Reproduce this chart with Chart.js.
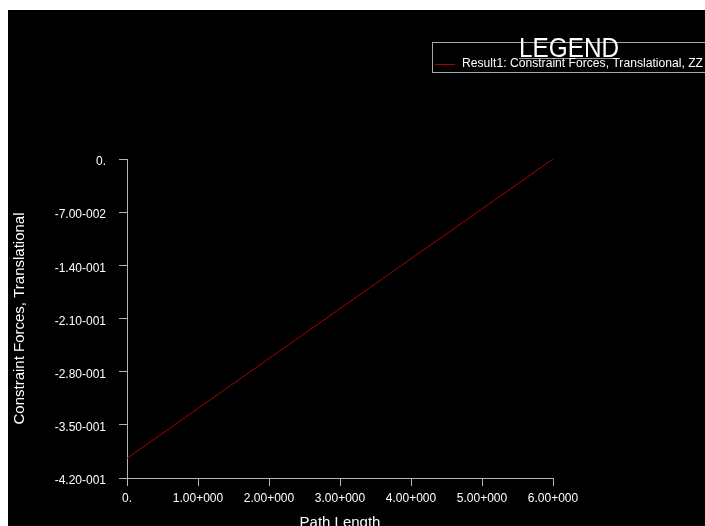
<!DOCTYPE html>
<html>
<head>
<meta charset="utf-8">
<title>Constraint Forces, Translational</title>
<script src="https://cdn.jsdelivr.net/npm/chart.js@4/dist/chart.umd.min.js"></script>
<style>
  html, body { margin: 0; padding: 0; overflow: hidden; background: #ffffff; }
  canvas { display: block; }
</style>
</head>
<body>
<canvas id="plot" width="705" height="540"></canvas>
<script>
// Path length (x) and translational constraint force ZZ (y)
const pathLength = [0, 6];
const constraintForceZZ = [-0.394, 0];
const seriesLabel = 'Result1: Constraint Forces, Translational, ZZ';

// Axis tick values and their labels
const xTickValues = [0, 1, 2, 3, 4, 5, 6];
const xTickLabels = ['0.', '1.00+000', '2.00+000', '3.00+000', '4.00+000', '5.00+000', '6.00+000'];
const yTickValues = [0, -0.07, -0.14, -0.21, -0.28, -0.35, -0.42];
const yTickLabels = ['0.', '-7.00-002', '-1.40-001', '-2.10-001', '-2.80-001', '-3.50-001', '-4.20-001'];

const FONT = "'Liberation Sans', Arial, Helvetica, sans-serif";
const AXIS_GREY = '#b4b4b4';

function labelFor(values, labels, v) {
  for (let i = 0; i < values.length; i++) {
    if (Math.abs(values[i] - v) < 1e-9) return labels[i];
  }
  return '';
}

// White margin with a black plotting panel
const panelBackground = {
  id: 'panelBackground',
  beforeDraw(chart) {
    const ctx = chart.ctx;
    ctx.save();
    ctx.fillStyle = '#ffffff';
    ctx.fillRect(0, 0, chart.width, chart.height);
    ctx.fillStyle = '#000000';
    ctx.fillRect(8, 10, chart.width - 8, chart.height - 10);
    ctx.restore();
  }
};

// Text drawn squeezed/stretched horizontally to a given width
function fillTextWidth(ctx, text, x, y, width) {
  const w = ctx.measureText(text).width;
  ctx.save();
  ctx.translate(x, y);
  ctx.scale(width / w, 1);
  ctx.fillText(text, 0, 0);
  ctx.restore();
}

// Boxed legend with an underlined "LEGEND" heading
const boxedLegend = {
  id: 'boxedLegend',
  afterDraw(chart) {
    const ctx = chart.ctx;
    const ds = chart.data.datasets[0];
    ctx.save();
    ctx.strokeStyle = '#a8a8a8';
    ctx.lineWidth = 1;
    ctx.strokeRect(432.5, 42.5, 280, 30);

    // heading
    ctx.font = '27px ' + FONT;
    ctx.fillStyle = '#ffffff';
    ctx.textBaseline = 'alphabetic';
    ctx.textAlign = 'left';
    fillTextWidth(ctx, 'LEGEND', 519, 57, 100);
    ctx.strokeStyle = '#9a9a9a';
    ctx.beginPath();
    ctx.moveTo(519, 58.5);
    ctx.lineTo(617, 58.5);
    ctx.stroke();

    // series entry
    ctx.strokeStyle = ds.borderColor;
    ctx.beginPath();
    ctx.moveTo(435, 64.5);
    ctx.lineTo(455, 64.5);
    ctx.stroke();
    ctx.font = '12.5px ' + FONT;
    ctx.textBaseline = 'middle';
    ctx.fillStyle = '#ffffff';
    fillTextWidth(ctx, ds.label, 462, 64, 241);
    ctx.restore();
  }
};

new Chart(document.getElementById('plot'), {
  type: 'line',
  data: {
    datasets: [{
      label: seriesLabel,
      data: pathLength.map((x, i) => ({ x: x, y: constraintForceZZ[i] })),
      borderColor: '#a80000',
      borderWidth: 1,
      pointRadius: 0,
      fill: false,
      tension: 0
    }]
  },
  options: {
    responsive: false,
    animation: false,
    devicePixelRatio: 1,
    layout: { padding: { left: 0, top: 159, right: 152, bottom: 0 } },
    plugins: {
      legend: { display: false },
      tooltip: { enabled: false }
    },
    scales: {
      x: {
        type: 'linear',
        position: 'bottom',
        min: 0,
        max: 6,
        afterBuildTicks: s => { s.ticks = xTickValues.map(v => ({ value: v })); },
        afterFit: s => { s.height = 62; },
        grid: { drawOnChartArea: false, drawTicks: true, tickLength: 8, color: AXIS_GREY, lineWidth: 1 },
        border: { display: true, color: AXIS_GREY, width: 1 },
        ticks: {
          color: '#ffffff',
          font: { family: FONT, size: 12 },
          padding: 5,
          maxRotation: 0,
          autoSkip: false,
          callback: v => labelFor(xTickValues, xTickLabels, v)
        },
        title: {
          display: true,
          text: 'Path Length',
          color: '#ffffff',
          font: { family: FONT, size: 15 },
          padding: { top: 0, bottom: 8 }
        }
      },
      y: {
        type: 'linear',
        position: 'left',
        min: -0.42,
        max: 0,
        afterBuildTicks: s => { s.ticks = yTickValues.map(v => ({ value: v })); },
        afterFit: s => { s.width = 127; },
        grid: { drawOnChartArea: false, drawTicks: true, tickLength: 8, color: AXIS_GREY, lineWidth: 1 },
        border: { display: true, color: AXIS_GREY, width: 1 },
        ticks: {
          color: '#ffffff',
          font: { family: FONT, size: 12 },
          padding: 13,
          labelOffset: 3,
          autoSkip: false,
          callback: v => labelFor(yTickValues, yTickLabels, v)
        },
        title: {
          display: true,
          text: 'Constraint Forces, Translational',
          color: '#ffffff',
          font: { family: FONT, size: 15 },
          padding: { top: 11, bottom: 0 }
        }
      }
    }
  },
  plugins: [panelBackground, boxedLegend]
});
</script>
</body>
</html>
